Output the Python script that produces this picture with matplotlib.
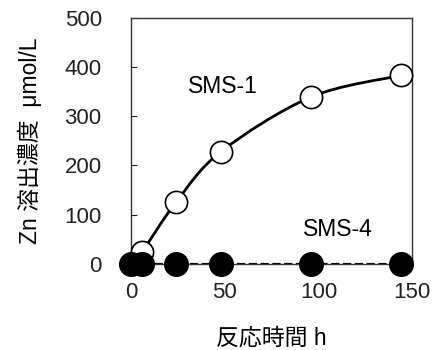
import matplotlib
matplotlib.use("Agg")
import matplotlib.pyplot as plt
from matplotlib.path import Path
from matplotlib.patches import PathPatch
import numpy as np

plt.rcParams['font.family'] = ['Liberation Sans', 'Noto Sans CJK JP', 'DejaVu Sans']

hours = [0, 6, 24, 48, 96, 144]
sms1 = [0, 25, 125, 228, 339, 383]
sms4 = [0, 0, 0, 0, 0, 0]

x_ticks = [0, 50, 100, 150]
y_ticks = [0, 100, 200, 300, 400, 500]


def smooth_path(xs, ys):
    # Catmull-Rom style bezier through the points (like Excel's smoothed line)
    pts = np.column_stack([xs, ys]).astype(float)
    verts = [pts[0]]
    codes = [Path.MOVETO]
    n = len(pts)
    for i in range(n - 1):
        p0 = pts[i - 1] if i > 0 else pts[i]
        p1 = pts[i]
        p2 = pts[i + 1]
        p3 = pts[i + 2] if i + 2 < n else pts[i + 1]
        c1 = p1 + (p2 - p0) / 6.0
        c2 = p2 - (p3 - p1) / 6.0
        verts += [c1, c2, p2]
        codes += [Path.CURVE4] * 3
    return Path(verts, codes)


fig = plt.figure(figsize=(4.32, 3.5), dpi=100)
ax = fig.add_axes([0.303, 0.246, 0.651, 0.703])

ax.add_patch(PathPatch(smooth_path(hours, sms1), fill=False, lw=2.0,
                       color='black', zorder=2))
ax.plot(hours, sms4, ls='--', lw=1.6, color='black', zorder=2)

ax.plot(hours, sms1, 'o', ms=16, mfc='white', mec='black', mew=1.2,
        zorder=3, clip_on=False)
ax.plot(hours, sms4, 'o', ms=17, mfc='black', mec='black', mew=1.0,
        zorder=4, clip_on=False)

ax.text(49, 360, 'SMS-1', fontsize=16.5, ha='center', va='center')
ax.text(110.5, 69, 'SMS-4', fontsize=16.5, ha='center', va='center')

ax.set_xlim(0, 150)
ax.set_ylim(0, 500)
ax.set_xticks(x_ticks)
ax.set_yticks(y_ticks)
ax.tick_params(direction='in', length=4, width=0.8, labelsize=16,
               colors='#222222')
ax.tick_params(axis='x', pad=13)
ax.tick_params(axis='y', pad=21)
for s in ax.spines.values():
    s.set_linewidth(1.0)
    s.set_color('#333333')

ax.set_xlabel('反応時間 h', fontsize=16.5, labelpad=17)
ax.set_ylabel('Zn 溶出濃度  μmol/L', fontsize=16.5, labelpad=16)

fig.savefig('out.png', dpi=100)
